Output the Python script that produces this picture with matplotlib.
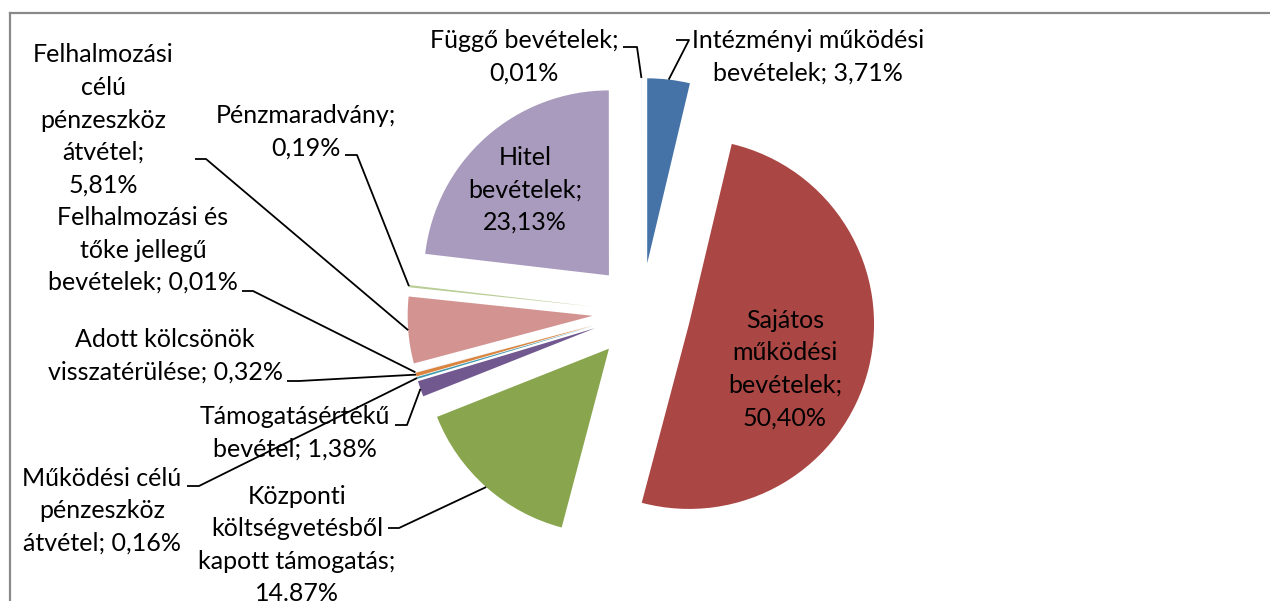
import numpy as np
import matplotlib.pyplot as plt
from matplotlib.lines import Line2D

categories = [
    "Intézményi működési bevételek",
    "Sajátos működési bevételek",
    "Központi költségvetésből kapott támogatás",
    "Támogatásértékű bevétel",
    "Működési célú pénzeszköz átvétel",
    "Adott kölcsönök visszatérülése",
    "Felhalmozási és tőke jellegű bevételek",
    "Felhalmozási célú pénzeszköz átvétel",
    "Pénzmaradvány",
    "Hitel bevételek",
    "Függő bevételek",
]
values = [3.71, 50.40, 14.87, 1.38, 0.16, 0.32, 0.01, 5.81, 0.19, 23.13, 0.01]
value_labels = ["3,71%", "50,40%", "14.87%", "1,38%", "0,16%", "0,32%",
                "0,01%", "5,81%", "0,19%", "23,13%", "0,01%"]
colors = ["#4572A7", "#AA4643", "#89A54E", "#71588F", "#4198AF", "#DB843D",
          "#93A9CF", "#D39391", "#B9CD96", "#A99BBD", "#91C3D5"]

label_texts = [
    "Intézményi működési\nbevételek; 3,71%",
    "Sajátos\nműködési\nbevételek;\n50,40%",
    "Központi\nköltségvetésből\nkapott támogatás;\n14.87%",
    "Támogatásértékű\nbevétel; 1,38%",
    "Működési célú\npénzeszköz\nátvétel; 0,16%",
    "Adott kölcsönök\nvisszatérülése; 0,32%",
    "Felhalmozási és\ntőke jellegű\nbevételek; 0,01%",
    "Felhalmozási\ncélú\npénzeszköz\nátvétel;\n5,81%",
    "Pénzmaradvány;\n0,19%",
    "Hitel\nbevételek;\n23,13%",
    "Függő bevételek;\n0,01%",
]

W, H = 1270, 601
# pixel layout (screen coords, y down)
center = (641.5, 312)
radius = 185
explode_px = 49

# label centre, leader start, leader elbow (None = label inside slice)
label_layout = [
    ((808, 57), (676, 40), (689, 40)),
    ((785, 369), None, None),
    ((297, 545), (388, 528), (399, 528)),
    ((295, 433), (395, 425), (407, 425)),
    ((102, 511), (187, 486), (199, 486)),
    ((165, 356), (287, 381), (299, 381)),
    ((143, 250), (242, 291), (253, 291)),
    ((103, 120), (195, 159), (206, 159)),
    ((306, 132), (345, 155), (357, 155)),
    ((525, 190), None, None),
    ((524, 57), (623, 47), (637, 47)),
]

plt.rcParams['font.family'] = ['Lato', 'DejaVu Sans']

fig = plt.figure(figsize=(W / 100, H / 100), dpi=100)
ax = fig.add_axes([0, 0, 1, 1])

cx, cy = center[0], H - center[1]
ax.pie(values, colors=colors, startangle=90, counterclock=False,
       center=(cx, cy), radius=radius,
       explode=[explode_px] * len(values),
       wedgeprops=dict(linewidth=0))

ax.set_xlim(0, W)
ax.set_ylim(0, H)
ax.set_aspect('equal')
ax.axis('off')

# angles of each slice (clockwise from top)
total = sum(values)
cum = np.cumsum([0] + values) / total * 360
mids = (cum[:-1] + cum[1:]) / 2

for i, txt in enumerate(label_texts):
    (lx, ly), start, elbow = label_layout[i]
    ax.text(lx, H - ly, txt, ha='center', va='center', fontsize=18,
            linespacing=1.5, color='black')
    if start is None:
        continue
    th = np.radians(mids[i])
    vx = cx + explode_px * np.sin(th)
    vy = cy + explode_px * np.cos(th)
    px = vx + radius * np.sin(th)
    py = vy + radius * np.cos(th)
    ax.plot([start[0], elbow[0], px], [H - start[1], H - elbow[1], py],
            color='black', lw=1.3, solid_capstyle='butt')

# chart border (top and left only visible)
fig.add_artist(Line2D([10 / W, 10 / W], [0, 1 - 13 / H], color='#898989', lw=1.6))
fig.add_artist(Line2D([10 / W, 1], [1 - 13 / H, 1 - 13 / H], color='#898989', lw=1.6))

fig.savefig("out.png", dpi=100)
